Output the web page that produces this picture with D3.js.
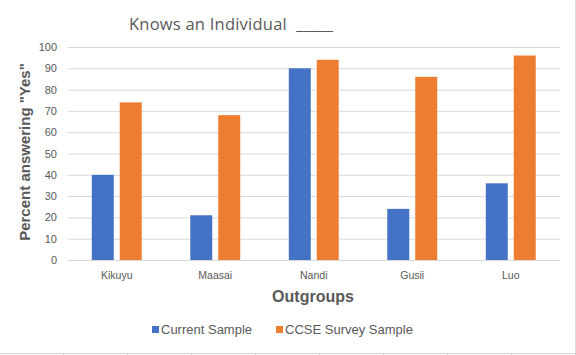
<!DOCTYPE html>
<html><head><meta charset="utf-8">
<script src="https://cdn.jsdelivr.net/npm/d3@7"></script>
<style>body{margin:0;background:#fff;}svg{display:block;}</style>
</head><body>
<svg id="chart" width="576" height="355"></svg>
<script>
const categories = ["Kikuyu", "Maasai", "Nandi", "Gusii", "Luo"];
const seriesNames = ["Current Sample", "CCSE Survey Sample"];
const currentSample = [40, 21, 90, 24, 36];
const ccseSample = [74, 68, 94, 86, 96];
const yTicks = [0, 10, 20, 30, 40, 50, 60, 70, 80, 90, 100];
const colors = ["#4472C4", "#ED7D31"];

const svg = d3.select("#chart");
const W = 576, H = 355;
const plotL = 67.5, plotR = 560, plotT = 47, plotB = 260;
const txt = "#595959";
const font = "'Liberation Sans', Arial, sans-serif";

svg.append("rect").attr("width", W).attr("height", H).attr("fill", "#fff");

// spreadsheet frame lines
svg.append("line").attr("x1", 575.5).attr("x2", 575.5).attr("y1", 0).attr("y2", 353)
  .attr("stroke", "#d9d9d9");
svg.append("line").attr("x1", 0).attr("x2", W).attr("y1", 353.5).attr("y2", 353.5)
  .attr("stroke", "#d0d0d0");
d3.range(63.5, 576, 64).forEach(xv => {
  svg.append("line").attr("x1", xv).attr("x2", xv).attr("y1", 353).attr("y2", 355).attr("stroke", "#d0d0d0");
});

const y = d3.scaleLinear().domain([0, 100]).range([plotB, plotT]);
const x0 = d3.scaleBand().domain(categories).range([plotL, plotR]).paddingInner(0.493).paddingOuter(0.2465);
const x1 = d3.scaleBand().domain(seriesNames).range([0, x0.bandwidth()]).paddingInner(0.214).paddingOuter(0);

// gridlines
const yAxis = d3.axisLeft(y).tickValues(yTicks).tickSize(-(plotR - plotL)).tickPadding(10);
const gy = svg.append("g").attr("transform", `translate(${plotL},0)`).call(yAxis);
gy.select(".domain").remove();
gy.selectAll(".tick line").attr("stroke", "#d9d9d9").attr("stroke-width", 1);
gy.selectAll(".tick text").attr("fill", txt).attr("font-family", font).attr("font-size", 11).attr("x", -10.5);

// bars
const data = categories.map((c, i) => ({cat: c, vals: [currentSample[i], ccseSample[i]]}));
const groups = svg.append("g").selectAll("g").data(data).join("g")
  .attr("transform", d => `translate(${x0(d.cat)},0)`);
groups.selectAll("rect").data(d => d.vals.map((v, j) => ({name: seriesNames[j], v, j})))
  .join("rect")
  .attr("x", d => x1(d.name))
  .attr("width", x1.bandwidth())
  .attr("y", d => y(d.v))
  .attr("height", d => y(0) - y(d.v))
  .attr("fill", d => colors[d.j]);

// x axis labels
const xAxis = d3.axisBottom(x0).tickSize(0).tickPadding(12);
const gx = svg.append("g").attr("transform", `translate(0,${plotB})`).call(xAxis);
gx.select(".domain").remove();
gx.selectAll(".tick text").attr("fill", txt).attr("font-family", font).attr("font-size", 10.5);

// title
svg.append("text").attr("x", 129).attr("y", 30).attr("fill", txt)
  .attr("font-family", "'Open Sans', 'Noto Sans', sans-serif").attr("font-size", 16.5)
  .attr("textLength", 204).attr("lengthAdjust", "spacing")
  .style("white-space", "pre")
  .text("Knows an Individual  _____");

// y axis title
svg.append("text").attr("transform", `translate(30,152) rotate(-90)`).attr("text-anchor", "middle")
  .attr("fill", txt).attr("font-family", font).attr("font-weight", "bold").attr("font-size", 15)
  .text('Percent answering "Yes"');

// x axis title
svg.append("text").attr("x", 313).attr("y", 302).attr("text-anchor", "middle")
  .attr("fill", txt).attr("font-family", font).attr("font-weight", "bold").attr("font-size", 16)
  .text("Outgroups");

// legend
const legendX = [152, 276];
seriesNames.forEach((n, j) => {
  svg.append("rect").attr("x", legendX[j]).attr("y", 326).attr("width", 7).attr("height", 7).attr("fill", colors[j]);
  svg.append("text").attr("x", legendX[j] + 9).attr("y", 334).attr("fill", txt)
    .attr("font-family", font).attr("font-size", 13).text(n);
});
</script>
</body></html>
